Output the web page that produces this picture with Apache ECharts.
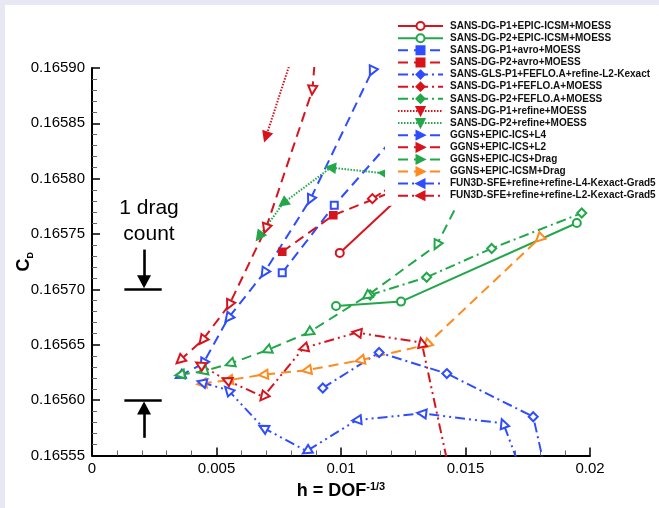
<!DOCTYPE html>
<html><head><meta charset="utf-8">
<script src="https://cdn.jsdelivr.net/npm/echarts@6/dist/echarts.min.js"></script>
<style>html,body{margin:0;padding:0;background:#fff}#c{width:659px;height:508px}</style>
</head><body><div id="c"></div>
<script>
// ---- tick labels ----
const xTickLabels = ['0', '0.005', '0.01', '0.015', '0.02'];
const yTickLabels = ['0.16555', '0.16560', '0.16565', '0.16570', '0.16575', '0.16580', '0.16585', '0.16590'];

// ---- series names ----
const seriesNames = [
  'SANS-DG-P1+EPIC-ICSM+MOESS',
  'SANS-DG-P2+EPIC-ICSM+MOESS',
  'SANS-DG-P1+avro+MOESS',
  'SANS-DG-P2+avro+MOESS',
  'SANS-GLS-P1+FEFLO.A+refine-L2-Kexact',
  'SANS-DG-P1+FEFLO.A+MOESS',
  'SANS-DG-P2+FEFLO.A+MOESS',
  'SANS-DG-P1+refine+MOESS',
  'SANS-DG-P2+refine+MOESS',
  'GGNS+EPIC-ICS+L4',
  'GGNS+EPIC-ICS+L2',
  'GGNS+EPIC-ICS+Drag',
  'GGNS+EPIC-ICSM+Drag',
  'FUN3D-SFE+refine+refine-L4-Kexact-Grad5',
  'FUN3D-SFE+refine+refine-L2-Kexact-Grad5'
];

// ---- data: [h, CD] ----
const dgP1Epic = [[0.00995, 0.165733], [0.0132, 0.165801]];
const dgP2Epic = [[0.00980, 0.165685], [0.01241, 0.165689], [0.01947, 0.165760]];
const dgP1Avro = [[0.00764, 0.165715], [0.00973, 0.165776], [0.0122, 0.165839]];
const dgP2Avro = [[0.00764, 0.165734], [0.00969, 0.165767], [0.01237, 0.165791]];
const glsP1Feflo = [[0.00927, 0.165611], [0.01153, 0.165643], [0.01425, 0.165624], [0.01772, 0.165585], [0.01827, 0.165530]];
const dgP1Feflo = [[0.01126, 0.165782], [0.0125, 0.165800]];
const dgP2Feflo = [[0.01117, 0.165695], [0.01344, 0.165711], [0.01605, 0.165737], [0.01967, 0.165769]];
const dgP1Refine = [[0.00699, 0.165838], [0.00825, 0.165925]];
const dgP2Refine = [[0.00672, 0.165748], [0.00768, 0.165778], [0.00959, 0.165810], [0.0117, 0.165805]];
const ggnsL4 = [[0.00353, 0.165622], [0.00446, 0.165633], [0.00547, 0.165674], [0.00691, 0.165715], [0.00876, 0.165781], [0.01124, 0.165897]];
const ggnsL2 = [[0.00353, 0.165636], [0.00443, 0.165654], [0.00551, 0.165686], [0.00698, 0.165755], [0.00885, 0.165880], [0.00908, 0.165943]];
const ggnsDrag = [[0.00353, 0.165623], [0.00445, 0.165626], [0.00554, 0.165633], [0.00702, 0.165645], [0.00869, 0.165661], [0.01103, 0.165694], [0.01384, 0.165740], [0.01558, 0.165817]];
const ggnsIcsmDrag = [[0.00441, 0.165615], [0.00547, 0.165618], [0.00688, 0.165623], [0.00862, 0.165627], [0.01076, 0.165636], [0.01344, 0.165650], [0.01796, 0.165746]];
const fun3dL4 = [[0.00441, 0.165616], [0.00547, 0.165609], [0.00688, 0.165575], [0.00862, 0.165554], [0.01063, 0.165582], [0.01324, 0.165588], [0.01652, 0.165579], [0.01727, 0.165534]];
const fun3dL2 = [[0.00434, 0.165632], [0.00541, 0.165618], [0.00688, 0.165603], [0.00849, 0.165647], [0.01063, 0.165661], [0.01324, 0.165652], [0.01438, 0.165533]];

const seriesData = [dgP1Epic, dgP2Epic, dgP1Avro, dgP2Avro, glsP1Feflo, dgP1Feflo, dgP2Feflo,
  dgP1Refine, dgP2Refine, ggnsL4, ggnsL2, ggnsDrag, ggnsIcsmDrag, fun3dL4, fun3dL2];

// ---- styles ----
const RED = '#d7141e', GREEN = '#22a84a', BLUE = '#2f4dff', ORANGE = '#ff8a1e';
const DASH = [10, 6], DASHDOT = [10, 4, 2, 4], DASHDOTDOT = [10, 4, 2, 4, 2, 4], DOT = [1.5, 1.5];
const styles = [
  {c: RED, t: 'solid', s: 'emptyCircle', p: 'emptyCircle', z: 8},
  {c: GREEN, t: 'solid', s: 'emptyCircle', p: 'emptyCircle', z: 8},
  {c: BLUE, t: DASH, s: 'rect', p: 'emptyRect', z: 7},
  {c: RED, t: DASH, s: 'rect', p: 'rect', z: 7},
  {c: BLUE, t: DASHDOT, s: 'diamond', p: 'emptyDiamond', z: 9},
  {c: RED, t: DASHDOT, s: 'diamond', p: 'emptyDiamond', z: 9},
  {c: GREEN, t: DASHDOT, s: 'diamond', p: 'emptyDiamond', z: 9},
  {c: RED, t: DOT, s: 'triangle', p: 'triangle', z: 9, r: 180, arrow: true},
  {c: GREEN, t: DOT, s: 'triangle', p: 'triangle', z: 9, r: 180, arrow: true},
  {c: BLUE, t: DASH, s: 'triangle', p: 'emptyTriangle', z: 9, r: -90, arrow: true},
  {c: RED, t: DASH, s: 'triangle', p: 'emptyTriangle', z: 9, r: -90, arrow: true},
  {c: GREEN, t: DASH, s: 'triangle', p: 'emptyTriangle', z: 9, r: -90, arrow: true},
  {c: ORANGE, t: DASH, s: 'triangle', p: 'emptyTriangle', z: 9, r: -90, arrow: true},
  {c: BLUE, t: DASHDOTDOT, s: 'triangle', p: 'emptyTriangle', z: 9, r: 90, arrow: true},
  {c: RED, t: DASHDOTDOT, s: 'triangle', p: 'emptyTriangle', z: 9, r: 90, arrow: true}
];

const FONT = '"Liberation Sans", Arial, Helvetica, sans-serif';

function makeData(i, rots) {
  const st = styles[i];
  return seriesData[i].map((p, k) => {
    const o = {value: p, symbol: st.p};
    if (rots && rots[k] != null) o.symbolRotate = rots[k];
    return o;
  });
}

function buildOption(allRots) {
  const series = seriesNames.map((name, i) => {
    const st = styles[i];
    return {
      name: name,
      type: 'line',
      data: makeData(i, allRots ? allRots[i] : null),
      symbol: st.s,
      symbolSize: st.z,
      symbolRotate: st.r || 0,
      showAllSymbol: true,
      clip: true,
      lineStyle: {color: st.c, width: 2, type: st.t},
      itemStyle: {color: st.c, borderColor: st.c, borderWidth: 1.6},
      emphasis: {disabled: true}
    };
  });

  // annotation series: "1 drag count"
  series.push({
    name: 'annotation',
    type: 'line',
    data: [],
    silent: true,
    markLine: {
      silent: true,
      animation: false,
      lineStyle: {color: '#000', width: 2.6, type: 'solid'},
      label: {show: false},
      symbolSize: [14, 13],
      data: [
        [{coord: [0.0013, 0.16570], symbol: 'none'}, {coord: [0.0028, 0.16570], symbol: 'none'}],
        [{coord: [0.0013, 0.16560], symbol: 'none'}, {coord: [0.0028, 0.16560], symbol: 'none'}],
        [{coord: [0.00209, 0.165736], symbol: 'none'}, {coord: [0.00209, 0.165707], symbol: 'triangle'}],
        [{coord: [0.00209, 0.165566], symbol: 'none'}, {coord: [0.00209, 0.165593], symbol: 'triangle'}]
      ]
    },
    markPoint: {
      silent: true,
      animation: false,
      symbol: 'circle',
      symbolSize: 0,
      label: {show: true, position: 'inside', formatter: '1 drag\ncount', fontSize: 21, lineHeight: 26, color: '#000', fontFamily: FONT},
      data: [{coord: [0.00229, 0.165762]}]
    }
  });

  return {
    animation: false,
    backgroundColor: '#fff',
    textStyle: {fontFamily: FONT},
    graphic: [
      {type: 'rect', left: 0, top: 0, shape: {width: 659, height: 5}, style: {fill: '#e8e8f5'}, z: 100},
      {type: 'rect', left: 0, top: 0, shape: {width: 5, height: 508}, style: {fill: '#e8e8f5'}, z: 100}
    ],
    grid: {left: 92, top: 68, width: 498, height: 387.5, containLabel: false, outerBoundsMode: 'none'},
    legend: {
      data: seriesNames,
      orient: 'vertical',
      left: 385,
      top: 8,
      padding: [12, 8, 4, 12],
      backgroundColor: '#fff',
      itemGap: 0,
      itemWidth: 45,
      itemHeight: 10,
      selectedMode: false,
      textStyle: {fontSize: 10, fontWeight: 'bold', color: '#111', fontFamily: FONT, lineHeight: 12.12, padding: [0, 0, 0, 2]}
    },
    xAxis: {
      type: 'value',
      min: 0, max: 0.02, interval: 0.005,
      name: '{h|h = DOF}{s|-1/3}',
      nameLocation: 'middle',
      nameGap: 26,
      nameMoveOverlap: false,
      nameTextStyle: {
        rich: {
          h: {fontSize: 18, fontWeight: 'bold', color: '#000', fontFamily: FONT, lineHeight: 20},
          s: {fontSize: 11, fontWeight: 'bold', color: '#000', fontFamily: FONT, lineHeight: 11, padding: [0, 0, 9, 0]}
        }
      },
      axisLine: {show: true, onZero: false, lineStyle: {color: '#000', width: 2}},
      axisTick: {show: true, inside: true, length: 8, lineStyle: {color: '#000', width: 1.5}},
      minorTick: {show: true, splitNumber: 5, length: 5, lineStyle: {color: '#666', width: 1}},
      axisLabel: {
        margin: 6, fontSize: 15, color: '#000', fontFamily: FONT,
        formatter: v => xTickLabels[Math.round(v / 0.005)]
      },
      splitLine: {show: false},
      minorSplitLine: {show: false}
    },
    yAxis: {
      type: 'value',
      min: 0.16555, max: 0.16590, interval: 0.00005,
      name: '{c|C}{d|D}',
      nameLocation: 'middle',
      nameRotate: 90,
      nameGap: 58,
      nameMoveOverlap: false,
      nameTextStyle: {
        rich: {
          c: {fontSize: 18, fontWeight: 'bold', color: '#000', fontFamily: FONT, lineHeight: 20},
          d: {fontSize: 9, fontWeight: 'bold', color: '#000', fontFamily: FONT, lineHeight: 9, padding: [13, 0, 0, 0]}
        }
      },
      axisLine: {show: true, onZero: false, lineStyle: {color: '#000', width: 2}},
      axisTick: {show: true, inside: true, length: 8, lineStyle: {color: '#000', width: 1.5}},
      minorTick: {show: true, splitNumber: 5, length: 5, lineStyle: {color: '#666', width: 1}},
      axisLabel: {
        margin: 7, fontSize: 15, color: '#000', fontFamily: FONT,
        formatter: v => yTickLabels[Math.round((v - 0.16555) / 0.00005)]
      },
      splitLine: {show: false},
      minorSplitLine: {show: false}
    },
    series: series
  };
}

const chart = echarts.init(document.getElementById('c'), null, {renderer: 'canvas'});
chart.setOption(buildOption(null));

// rotate arrow-like markers along the line, pointing toward smaller h
const allRots = seriesNames.map((name, i) => {
  if (!styles[i].arrow) return null;
  const px = seriesData[i].map(p => chart.convertToPixel({gridIndex: 0}, p));
  return px.map((p, k) => {
    let dx, dy;
    if (k < px.length - 1) { dx = p[0] - px[k + 1][0]; dy = p[1] - px[k + 1][1]; }
    else { dx = px[k - 1][0] - p[0]; dy = px[k - 1][1] - p[1]; }
    return Math.atan2(-dx, -dy) * 180 / Math.PI;
  });
});
chart.setOption(buildOption(allRots), true);
</script>
</body></html>
